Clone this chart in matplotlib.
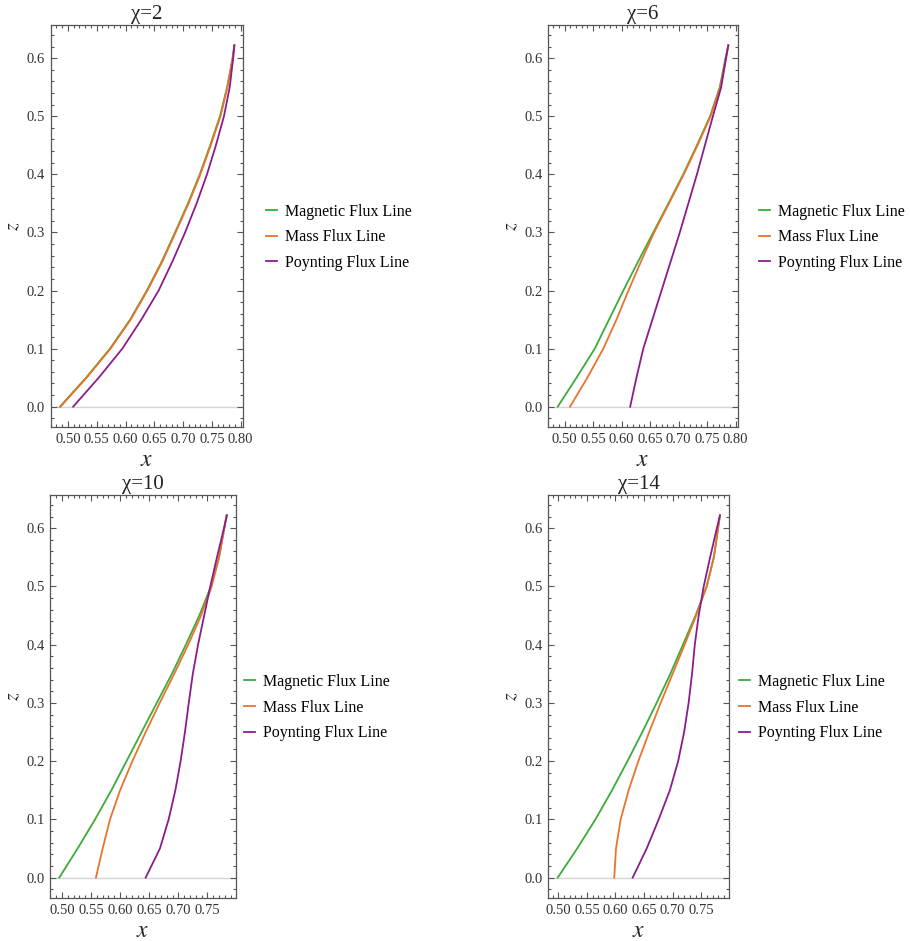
import numpy as np
import matplotlib
matplotlib.use("Agg")
from matplotlib import pyplot as plt
from matplotlib.ticker import MultipleLocator

plt.rcParams['font.family'] = ['Liberation Serif', 'DejaVu Serif']
plt.rcParams['mathtext.fontset'] = 'stix'

# flux lines for each chi, read as (x, z) points
chi_values = [2, 6, 10, 14]

z_coarse = [0.0, 0.05, 0.1, 0.15, 0.2, 0.25, 0.3, 0.35, 0.4, 0.45, 0.5, 0.55, 0.6, 0.622]

# chi = 2
mag_x_2 = [0.486, 0.5315, 0.573, 0.608, 0.637, 0.663, 0.686, 0.7085, 0.729, 0.747, 0.764, 0.7765, 0.786, 0.789]
mass_x_2 = [0.487, 0.5325, 0.574, 0.609, 0.638, 0.664, 0.687, 0.7095, 0.730, 0.748, 0.765, 0.777, 0.786, 0.789]
poy_x_2 = [0.509, 0.5535, 0.5945, 0.6275, 0.6575, 0.6815, 0.7035, 0.7235, 0.7415, 0.757, 0.771, 0.781, 0.787, 0.789]

# chi = 6
mag_x_6 = [0.488, 0.521, 0.553, 0.578, 0.603, 0.629, 0.6555, 0.682, 0.708, 0.732, 0.755, 0.772, 0.782, 0.787]
mass_x_6 = [0.5096, 0.540, 0.568, 0.591, 0.612, 0.634, 0.657, 0.683, 0.709, 0.733, 0.756, 0.773, 0.783, 0.787]
poy_x_6 = [0.615, 0.626, 0.638, 0.654, 0.670, 0.686, 0.702, 0.717, 0.732, 0.746, 0.760, 0.7745, 0.783, 0.787]

# chi = 10
mag_x_10 = [0.4955, 0.527, 0.557, 0.585, 0.611, 0.637, 0.663, 0.689, 0.713, 0.736, 0.756, 0.770, 0.779, 0.783]
mass_x_10 = [0.5585, 0.570, 0.5826, 0.600, 0.621, 0.644, 0.668, 0.693, 0.717, 0.739, 0.7573, 0.770, 0.779, 0.783]
poy_x_10 = [0.6439, 0.6684, 0.6834, 0.6949, 0.7039, 0.7114, 0.7179, 0.7249, 0.7339, 0.7444, 0.7549, 0.7664, 0.7784, 0.7834]

# chi = 14
mag_x_14 = [0.499, 0.533, 0.565, 0.594, 0.621, 0.647, 0.672, 0.696, 0.718, 0.740, 0.7595, 0.772, 0.7795, 0.7827]
mass_x_14 = [0.5979, 0.6009, 0.6091, 0.623, 0.640, 0.659, 0.679, 0.700, 0.721, 0.741, 0.7595, 0.772, 0.7795, 0.7827]
poy_x_14 = [0.6301, 0.6546, 0.6756, 0.6951, 0.7096, 0.7201, 0.7279, 0.7339, 0.7387, 0.7455, 0.7543, 0.7655, 0.7773, 0.7827]

series = {
    2: (mag_x_2, mass_x_2, poy_x_2),
    6: (mag_x_6, mass_x_6, poy_x_6),
    10: (mag_x_10, mass_x_10, poy_x_10),
    14: (mag_x_14, mass_x_14, poy_x_14),
}
labels = ["Magnetic Flux Line", "Mass Flux Line", "Poynting Flux Line"]
colors = ["#3cab3a", "#e8742c", "#8c1c8c"]

# axes boxes [left, bottom, width, height] and x limits
boxes = {
    2: [0.0557, 0.5462, 0.2113, 0.4272],
    6: [0.6022, 0.5462, 0.2088, 0.4272],
    10: [0.0549, 0.0457, 0.2044, 0.4283],
    14: [0.6025, 0.0457, 0.1989, 0.4283],
}
xlims = {2: (0.470, 0.804), 6: (0.471, 0.804), 10: (0.4795, 0.799), 14: (0.4825, 0.799)}
legend_pos = {2: (0.292, 0.748), 6: (0.834, 0.748), 10: (0.268, 0.248), 14: (0.812, 0.248)}

fig = plt.figure(figsize=(9.1, 9.41), dpi=100)

for chi in chi_values:
    ax = fig.add_axes(boxes[chi])
    ax.axhline(0, color="#d4d4d4", lw=1.0, zorder=1)
    lines = []
    for xs, lab, c in zip(series[chi], labels, colors):
        ln, = ax.plot(xs, z_coarse, color=c, lw=1.3, label=lab, zorder=3)
        lines.append(ln)

    ax.set_xlim(*xlims[chi])
    ax.set_ylim(-0.035, 0.657)
    ax.xaxis.set_major_locator(MultipleLocator(0.05))
    ax.xaxis.set_minor_locator(MultipleLocator(0.01))
    ax.yaxis.set_major_locator(MultipleLocator(0.1))
    ax.yaxis.set_minor_locator(MultipleLocator(0.02))
    ax.xaxis.set_major_formatter(plt.FuncFormatter(lambda v, p: "%.2f" % v))
    ax.yaxis.set_major_formatter(plt.FuncFormatter(lambda v, p: "%.1f" % v))
    ax.tick_params(which="both", direction="in", top=True, right=True,
                   colors="#555555", labelcolor="#333333", labelsize=10.5, width=0.8)
    ax.tick_params(which="major", length=4, pad=4)
    ax.tick_params(which="minor", length=2)
    for s in ax.spines.values():
        s.set_color("#555555")
        s.set_linewidth(0.9)

    ax.set_title("χ=%d" % chi, fontsize=15, pad=4, color="#222222")
    ax.set_xlabel("$x$", fontsize=17, labelpad=3, color="#222222")
    ax.set_ylabel("$z$", fontsize=14, labelpad=3, color="#222222")

    fig.legend(handles=lines, loc="center left", bbox_to_anchor=legend_pos[chi],
               frameon=False, fontsize=11.5, handlelength=0.7, handletextpad=0.5,
               labelspacing=0.6, borderaxespad=0, borderpad=0)

plt.savefig("out.png", dpi=100)
